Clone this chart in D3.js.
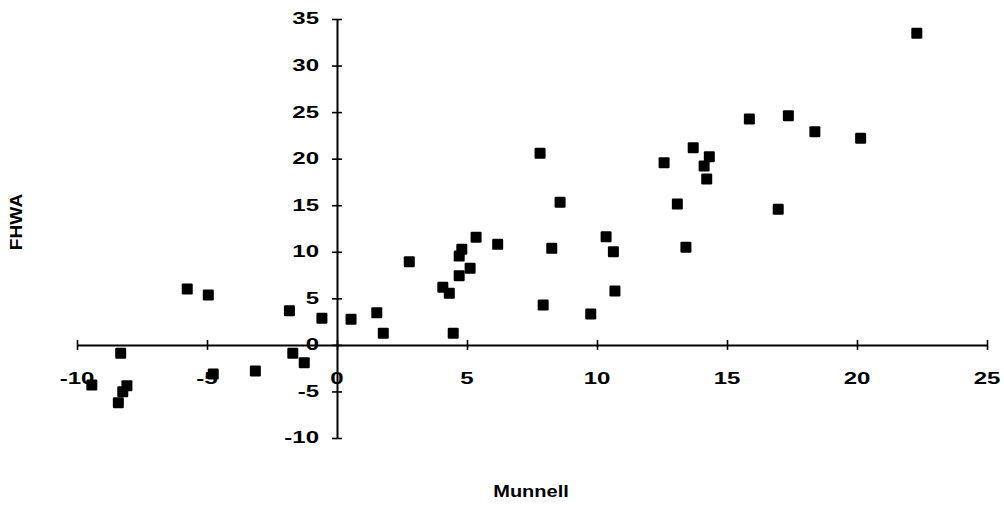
<!DOCTYPE html>
<html>
<head>
<meta charset="utf-8">
<script src="https://cdn.jsdelivr.net/npm/d3@7"></script>
<style>
  body { margin: 0; background: #fff; }
  svg { display: block; font-family: "Liberation Sans", Arial, sans-serif; }
</style>
</head>
<body>
<div id="chart"></div>
<script>
// Munnell (x) vs FHWA (y)
const munnell = [
  -9.43, -8.32, -8.41, -8.24, -8.08, -5.76, -4.95, -4.76, -3.14, -1.83,
  -1.70, -1.26, -0.58, 0.54, 1.53, 1.78, 2.78, 4.07, 4.32, 4.47,
  4.70, 5.12, 4.70, 4.80, 5.35, 6.18, 7.81, 7.93, 8.26, 8.58,
  9.76, 10.35, 10.63, 10.69, 12.58, 13.09, 13.42, 13.70, 14.12, 14.22,
  14.32, 15.86, 16.97, 17.36, 18.38, 20.14, 22.30
];
const fhwa = [
  -4.31, -0.90, -6.21, -5.03, -4.38, 6.00, 5.36, -3.13, -2.80, 3.67,
  -0.90, -1.91, 2.86, 2.75, 3.46, 1.25, 8.94, 6.19, 5.54, 1.25,
  7.43, 8.23, 9.55, 10.27, 11.56, 10.80, 20.58, 4.29, 10.37, 15.32,
  3.32, 11.62, 10.01, 5.79, 19.57, 15.13, 10.48, 21.18, 19.21, 17.82,
  20.21, 24.26, 14.56, 24.62, 22.90, 22.19, 33.47
];
const xTicks = [-10, -5, 0, 5, 10, 15, 20, 25];
const yTicks = [-10, -5, 0, 5, 10, 15, 20, 25, 30, 35];

const W = 1004, H = 507;
const STRETCH = 1.5;   // the scanned lettering is a wide face

const points = munnell.map((m, i) => ({ x: m, y: fhwa[i] }));

const x = d3.scaleLinear().domain([-10, 25]).range([77, 987]);
const y = d3.scaleLinear().domain([-10, 35]).range([438, 19]);

const svg = d3.select("#chart").append("svg")
  .attr("width", W).attr("height", H);

const x0 = x(0), y0 = y(0);

// x axis: ticks crossing the line on both sides
svg.append("g").attr("transform", `translate(0,${y0})`)
  .call(d3.axisBottom(x).tickValues(xTicks).tickSizeInner(5).tickSizeOuter(0).tickFormat(""));
svg.append("g").attr("transform", `translate(0,${y0})`)
  .call(d3.axisTop(x).tickValues(xTicks).tickSizeInner(5).tickSizeOuter(0).tickFormat(""))
  .select(".domain").remove();

// y axis
svg.append("g").attr("transform", `translate(${x0},0)`)
  .call(d3.axisLeft(y).tickValues(yTicks).tickSizeInner(5).tickSizeOuter(0).tickFormat(""));
svg.append("g").attr("transform", `translate(${x0},0)`)
  .call(d3.axisRight(y).tickValues(yTicks).tickSizeInner(5).tickSizeOuter(0).tickFormat(""))
  .select(".domain").remove();

svg.selectAll(".domain").attr("stroke", "#000").attr("stroke-width", 2);
svg.selectAll(".tick line").attr("stroke", "#000").attr("stroke-width", 1.6);

// tick labels
svg.append("g").selectAll("text")
  .data(xTicks).join("text")
  .attr("transform", d => `translate(${x(d)},${y0 + 34}) scale(${STRETCH},1)`)
  .attr("text-anchor", "middle")
  .attr("dominant-baseline", "central")
  .style("font-size", "16px").style("font-weight", "bold")
  .text(d => d);

svg.append("g").selectAll("text")
  .data(yTicks).join("text")
  .attr("transform", d => `translate(${x0 - 18},${y(d)}) scale(${STRETCH},1)`)
  .attr("text-anchor", "end")
  .attr("dominant-baseline", "central")
  .style("font-size", "16px").style("font-weight", "bold")
  .text(d => d);

// axis titles
svg.append("text")
  .attr("transform", `translate(531,492) scale(1.25,1)`)
  .attr("text-anchor", "middle")
  .attr("dominant-baseline", "central")
  .style("font-size", "16px").style("font-weight", "bold")
  .text("Munnell");

svg.append("text")
  .attr("transform", `translate(17,222) rotate(-90) scale(1.2,1)`)
  .attr("text-anchor", "middle")
  .attr("dominant-baseline", "central")
  .style("font-size", "16px").style("font-weight", "bold")
  .text("FHWA");

// markers
const sq = 11;
svg.append("g").selectAll("rect")
  .data(points).join("rect")
  .attr("x", d => x(d.x) - sq / 2)
  .attr("y", d => y(d.y) - sq / 2)
  .attr("width", sq).attr("height", sq)
  .attr("rx", 1.2)
  .attr("fill", "#000");
</script>
</body>
</html>
